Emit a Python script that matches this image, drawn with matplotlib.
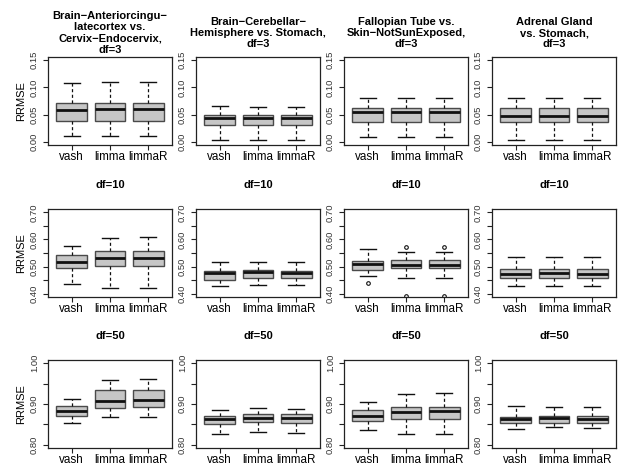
import matplotlib
matplotlib.use('Agg')
import matplotlib.pyplot as plt
from matplotlib.ticker import FormatStrFormatter

plt.rcParams['font.family'] = ['Liberation Sans', 'DejaVu Sans']

methods = ['vash', 'limma', 'limmaR']
col_titles = ['Brain\u2212Anteriorcingu\u2212\nlatecortex vs.\nCervix\u2212Endocervix,',
              'Brain\u2212Cerebellar\u2212\nHemisphere vs. Stomach,',
              'Fallopian Tube vs.\nSkin\u2212NotSunExposed,',
              'Adrenal Gland\nvs. Stomach,']
dfs = [3, 10, 50]

# each box: [low whisker, Q1, median, Q3, high whisker] for vash, limma, limmaR
df3_anterior = [[0.0105, 0.039, 0.0586, 0.071, 0.108],
                [0.0105, 0.039, 0.060, 0.071, 0.110],
                [0.0105, 0.039, 0.060, 0.071, 0.110]]
df3_cerebellar = [[0.003, 0.030, 0.043, 0.049, 0.065],
                  [0.003, 0.030, 0.043, 0.049, 0.064],
                  [0.003, 0.030, 0.043, 0.049, 0.064]]
df3_fallopian = [[0.0086, 0.036, 0.054, 0.063, 0.080],
                 [0.0086, 0.036, 0.054, 0.063, 0.080],
                 [0.0086, 0.036, 0.054, 0.063, 0.080]]
df3_adrenal = [[0.004, 0.036, 0.048, 0.062, 0.081],
               [0.004, 0.036, 0.048, 0.062, 0.081],
               [0.004, 0.036, 0.048, 0.062, 0.081]]

df10_anterior = [[0.435, 0.495, 0.5185, 0.541, 0.5765],
                 [0.421, 0.5025, 0.530, 0.557, 0.606],
                 [0.422, 0.5025, 0.532, 0.557, 0.609]]
df10_cerebellar = [[0.428, 0.451, 0.475, 0.483, 0.516],
                   [0.433, 0.457, 0.480, 0.486, 0.516],
                   [0.432, 0.457, 0.477, 0.485, 0.516]]
df10_fallopian = [[0.4655, 0.489, 0.510, 0.522, 0.563],
                  [0.458, 0.495, 0.5075, 0.525, 0.553],
                  [0.458, 0.495, 0.5075, 0.525, 0.553]]
df10_adrenal = [[0.427, 0.458, 0.4716, 0.4914, 0.537],
                [0.427, 0.458, 0.475, 0.4914, 0.537],
                [0.427, 0.458, 0.474, 0.4914, 0.537]]

df50_anterior = [[0.8533, 0.8708, 0.8833, 0.8958, 0.9117],
                 [0.8675, 0.890, 0.9075, 0.9333, 0.960],
                 [0.8683, 0.8925, 0.9092, 0.935, 0.9617]]
df50_cerebellar = [[0.8258, 0.850, 0.8633, 0.8717, 0.8858],
                   [0.8317, 0.855, 0.8667, 0.875, 0.889],
                   [0.830, 0.8533, 0.8658, 0.875, 0.8875]]
df50_fallopian = [[0.8358, 0.8583, 0.8717, 0.8842, 0.9058],
                  [0.8267, 0.8642, 0.8808, 0.8925, 0.925],
                  [0.8267, 0.8642, 0.8817, 0.8925, 0.9267]]
df50_adrenal = [[0.8392, 0.8525, 0.8633, 0.8692, 0.8942],
                [0.8425, 0.8542, 0.865, 0.870, 0.8925],
                [0.8408, 0.8533, 0.8642, 0.870, 0.8925]]

# outlying points, only in Fallopian df=10
fallopian_df10_fliers = [[0.438], [0.573, 0.392], [0.573, 0.392]]

panels = [[df3_anterior, df3_cerebellar, df3_fallopian, df3_adrenal],
          [df10_anterior, df10_cerebellar, df10_fallopian, df10_adrenal],
          [df50_anterior, df50_cerebellar, df50_fallopian, df50_adrenal]]
row_ranges = [(0.0, 0.15), (0.40, 0.70), (0.80, 1.00)]
row_label_step = [0.05, 0.10, 0.10]

W, H = 618, 465
fig = plt.figure(figsize=(W / 100, H / 100), dpi=100)

col_left = [48, 196, 344, 492]
row_top = [57, 209, 360]
aw, ah = 124, 88

for r in range(3):
    lo, hi = row_ranges[r]
    pad = (hi - lo) * 0.04
    for c in range(4):
        ax = fig.add_axes([col_left[c] / W, 1 - (row_top[r] + ah) / H, aw / W, ah / H])
        fl = fallopian_df10_fliers if (r == 1 and c == 2) else [[], [], []]
        stats = []
        for k, s in enumerate(panels[r][c]):
            stats.append(dict(whislo=s[0], q1=s[1], med=s[2], q3=s[3], whishi=s[4],
                              fliers=fl[k]))
        ax.bxp(stats, positions=[1, 2, 3], widths=0.8, patch_artist=True,
               capwidths=0.42,
               boxprops=dict(facecolor='#c6c6c6', edgecolor='#4a4a4a', linewidth=1.0),
               medianprops=dict(color='#111111', linewidth=2.0),
               whiskerprops=dict(color='#111111', linestyle=(0, (2.5, 2)), linewidth=0.9),
               capprops=dict(color='#111111', linewidth=1.0),
               flierprops=dict(marker='o', markersize=2.6, markerfacecolor='none',
                               markeredgecolor='#111111', markeredgewidth=0.8))

        ax.set_xlim(0.38, 3.62)
        ax.set_ylim(lo - pad, hi + pad)
        ax.set_xticks([1, 2, 3])
        ax.set_xticklabels(methods, fontsize=8.4)
        n_lab = int(round((hi - lo) / row_label_step[r])) + 1
        ax.set_yticks([lo + i * row_label_step[r] for i in range(n_lab)])
        n_min = int(round((hi - lo) / 0.05)) + 1
        ax.set_yticks([lo + i * 0.05 for i in range(n_min)], minor=True)
        ax.yaxis.set_major_formatter(FormatStrFormatter('%.2f'))
        ax.tick_params(axis='both', which='both', direction='out', length=3.5, width=0.8,
                       color='#222222')
        ax.tick_params(axis='x', pad=0.5)
        ax.tick_params(axis='y', labelsize=6.8, labelcolor='#333333', labelrotation=90, pad=3)
        for lab in ax.get_yticklabels():
            lab.set_va('center')
        for sp in ax.spines.values():
            sp.set_linewidth(0.9)
            sp.set_color('#222222')

        if r == 0:
            title = col_titles[c] + '\ndf=%d' % dfs[r]
        else:
            title = 'df=%d' % dfs[r]
        ax.annotate(title, xy=(0.5, 1.0), xycoords='axes fraction',
                    xytext=(0, 24 * 0.72), textcoords='offset points',
                    ha='center', va='center', multialignment='center',
                    fontsize=8, fontweight='bold', linespacing=1.15)

        if c == 0:
            ax.set_ylabel('RRMSE', fontsize=8)
            ax.yaxis.set_label_coords(-0.18, 0.5)

fig.savefig('out.png', dpi=100)
